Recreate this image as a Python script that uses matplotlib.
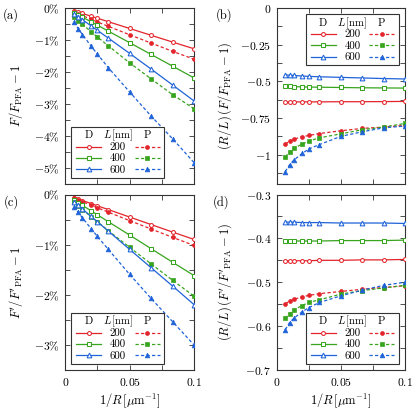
import matplotlib
matplotlib.use("Agg")
import matplotlib.pyplot as plt
from matplotlib.lines import Line2D
from matplotlib.text import Text
from matplotlib.offsetbox import DrawingArea, VPacker, HPacker, AnchoredOffsetbox
from matplotlib.ticker import MultipleLocator

plt.rcParams['font.family'] = 'serif'
plt.rcParams['font.serif'] = ['cmr10']
plt.rcParams['mathtext.fontset'] = 'cm'
plt.rcParams['axes.unicode_minus'] = True

FS = 8.4

# 1/R in um^-1
inv_R = [1/150, 1/100, 1/75, 1/50, 1/40, 1/30, 1/20, 1/15, 1/12, 1/10]
L_labels = ['200', '400', '600']

# (a) F/F_PFA - 1 in percent
a_D200 = [-0.085, -0.128, -0.171, -0.256, -0.320, -0.427, -0.640, -0.853, -1.064, -1.274]
a_D400 = [-0.142, -0.214, -0.286, -0.430, -0.539, -0.720, -1.084, -1.451, -1.817, -2.184]
a_D600 = [-0.182, -0.275, -0.368, -0.557, -0.699, -0.938, -1.419, -1.908, -2.405, -2.904]
a_P200 = [-0.124, -0.182, -0.238, -0.351, -0.435, -0.571, -0.837, -1.095, -1.354, -1.600]
a_P400 = [-0.270, -0.393, -0.510, -0.742, -0.908, -1.180, -1.716, -2.214, -2.707, -3.148]
a_P600 = [-0.446, -0.641, -0.830, -1.189, -1.442, -1.862, -2.625, -3.376, -4.085, -4.830]

# (b) (R/L)(F/F_PFA - 1)
b_D200 = [-0.640, -0.640, -0.640, -0.640, -0.640, -0.640, -0.639, -0.639, -0.638, -0.637]
b_D400 = [-0.534, -0.535, -0.536, -0.538, -0.539, -0.540, -0.542, -0.544, -0.545, -0.546]
b_D600 = [-0.456, -0.458, -0.460, -0.464, -0.466, -0.469, -0.473, -0.477, -0.481, -0.484]
b_P200 = [-0.927, -0.908, -0.894, -0.878, -0.869, -0.856, -0.837, -0.821, -0.812, -0.800]
b_P400 = [-1.014, -0.982, -0.956, -0.927, -0.908, -0.885, -0.858, -0.830, -0.812, -0.787]
b_P600 = [-1.115, -1.069, -1.037, -0.991, -0.961, -0.931, -0.875, -0.844, -0.817, -0.805]

# (c) F'/F'_PFA - 1 in percent
c_D200 = [-0.060, -0.090, -0.120, -0.180, -0.226, -0.300, -0.450, -0.599, -0.749, -0.896]
c_D400 = [-0.108, -0.162, -0.217, -0.325, -0.406, -0.541, -0.810, -1.080, -1.350, -1.616]
c_D600 = [-0.145, -0.218, -0.290, -0.437, -0.546, -0.728, -1.095, -1.460, -1.825, -2.196]
c_P200 = [-0.073, -0.109, -0.144, -0.213, -0.265, -0.351, -0.521, -0.688, -0.854, -1.016]
c_P400 = [-0.155, -0.229, -0.300, -0.442, -0.546, -0.720, -1.054, -1.384, -1.710, -2.028]
c_P600 = [-0.243, -0.355, -0.466, -0.680, -0.837, -1.092, -1.593, -2.072, -2.535, -3.000]

# (d) (R/L)(F'/F'_PFA - 1)
d_D200 = [-0.451, -0.451, -0.451, -0.451, -0.451, -0.450, -0.450, -0.449, -0.449, -0.448]
d_D400 = [-0.406, -0.406, -0.406, -0.406, -0.406, -0.406, -0.405, -0.405, -0.405, -0.404]
d_D600 = [-0.363, -0.363, -0.363, -0.364, -0.364, -0.364, -0.365, -0.365, -0.365, -0.366]
d_P200 = [-0.549, -0.543, -0.539, -0.533, -0.530, -0.526, -0.521, -0.516, -0.512, -0.508]
d_P400 = [-0.582, -0.572, -0.563, -0.553, -0.546, -0.540, -0.527, -0.519, -0.513, -0.507]
d_P600 = [-0.608, -0.592, -0.582, -0.567, -0.558, -0.546, -0.531, -0.518, -0.507, -0.500]

colors = ['#e3242b', '#38a51f', '#1f63d8']
markers = ['o', 's', '^']
msizes = [2.8, 2.6, 3.4]
LW = 0.9
DASH = (2.6, 1.8)
SPINE = '#333333'

W, H = 415, 409
fig = plt.figure(figsize=(W/100, H/100), dpi=100)

def fr(l, t, r, b):
    return [l/W, 1 - b/H, (r - l)/W, (b - t)/H]

axA = fig.add_axes(fr(65.3, 8, 194, 184))
axB = fig.add_axes(fr(276.7, 8, 405, 184))
axC = fig.add_axes(fr(65.3, 194.5, 194, 370))
axD = fig.add_axes(fr(276.7, 194.5, 405, 370))


def draw(ax, Ds, Ps):
    for i in range(3):
        ax.plot(inv_R, Ds[i], color=colors[i], lw=LW, marker=markers[i],
                ms=msizes[i], mfc='white', mec=colors[i], mew=0.75, zorder=3)
        ax.plot(inv_R, Ps[i], color=colors[i], lw=LW, ls=(0, DASH), marker=markers[i],
                ms=msizes[i], mfc=colors[i], mec=colors[i], mew=0.5, zorder=3)


draw(axA, [a_D200, a_D400, a_D600], [a_P200, a_P400, a_P600])
draw(axB, [b_D200, b_D400, b_D600], [b_P200, b_P400, b_P600])
draw(axC, [c_D200, c_D400, c_D600], [c_P200, c_P400, c_P600])
draw(axD, [d_D200, d_D400, d_D600], [d_P200, d_P400, d_P600])


def style(ax, ylim, yt, ylabels, ymin, show_x):
    ax.set_xlim(0, 0.1)
    ax.set_ylim(*ylim)
    ax.set_xticks([0, 0.05, 0.1])
    if show_x:
        ax.set_xticklabels([r'$0$', r'$0.05$', r'$0.1$'])
    else:
        ax.set_xticklabels([])
    ax.xaxis.set_minor_locator(MultipleLocator(0.025))
    ax.set_yticks(yt)
    ax.set_yticklabels(ylabels)
    ax.yaxis.set_minor_locator(MultipleLocator(ymin))
    ax.tick_params(which='both', direction='in', top=True, right=True,
                   length=3.5, width=0.6, color=SPINE, labelsize=FS, pad=4)
    for s in ax.spines.values():
        s.set_color(SPINE)
        s.set_linewidth(0.8)


style(axA, (-5.5, 0), [0, -1, -2, -3, -4, -5],
      [r'$0\%$', r'$-1\%$', r'$-2\%$', r'$-3\%$', r'$-4\%$', r'$-5\%$'], 0.5, False)
style(axB, (-1.2, 0), [0, -0.25, -0.5, -0.75, -1],
      [r'$0$', r'$-0.25$', r'$-0.5$', r'$-0.75$', r'$-1$'], 0.125, False)
style(axC, (-3.5, 0), [0, -1, -2, -3],
      [r'$0\%$', r'$-1\%$', r'$-2\%$', r'$-3\%$'], 0.5, True)
style(axD, (-0.7, -0.3), [-0.3, -0.4, -0.5, -0.6, -0.7],
      [r'$-0.3$', r'$-0.4$', r'$-0.5$', r'$-0.6$', r'$-0.7$'], 0.05, True)

LBL = FS + 0.6
axA.set_ylabel(r'$F/F_{\rm PFA}-1$', fontsize=LBL, va='center')
axA.yaxis.set_label_coords(-0.38, 0.5)
axB.set_ylabel(r'$(R/L)\,(F/F_{\rm PFA}-1)$', fontsize=LBL, va='center')
axB.yaxis.set_label_coords(-0.40, 0.5)
axC.set_ylabel(r"$F'/F'_{\rm PFA}-1$", fontsize=LBL, va='center')
axC.yaxis.set_label_coords(-0.38, 0.5)
axD.set_ylabel(r"$(R/L)\,(F'/F'_{\rm PFA}-1)$", fontsize=LBL, va='center')
axD.yaxis.set_label_coords(-0.40, 0.5)
for ax in (axC, axD):
    ax.set_xlabel(r'$1/R\,[\mu{\rm m}^{-1}]$', fontsize=LBL, labelpad=2.5)

fig.text(11/W, 1 - 15/H, '(a)', fontsize=LBL, ha='center', va='center')
fig.text(224/W, 1 - 15/H, '(b)', fontsize=LBL, ha='center', va='center')
fig.text(11/W, 1 - 202/H, '(c)', fontsize=LBL, ha='center', va='center')
fig.text(221/W, 1 - 202/H, '(d)', fontsize=LBL, ha='center', va='center')

# custom tabular legend
CW1, CW2, CW3, RH = 21, 17, 21, 8.2
LFS = 7.8


def text_cell(s, w):
    da = DrawingArea(w, RH, 0, 0)
    da.add_artist(Text(w/2, RH/2 - 0.3, s, ha='center', va='center', fontsize=LFS))
    return da


def line_cell(i, filled, w):
    da = DrawingArea(w, RH, 0, 0)
    ls = (0, DASH) if filled else '-'
    da.add_artist(Line2D([1.5, w - 1.5], [RH/2, RH/2], color=colors[i], lw=LW, ls=ls))
    da.add_artist(Line2D([w/2], [RH/2], color=colors[i], marker=markers[i],
                         ms=msizes[i], mfc=colors[i] if filled else 'white',
                         mec=colors[i], mew=0.5 if filled else 0.75, ls='none'))
    return da


def add_legend(ax, loc):
    col1 = VPacker(children=[text_cell('D', CW1)] + [line_cell(i, False, CW1) for i in range(3)],
                   pad=0, sep=0, align='center')
    col2 = VPacker(children=[text_cell(r'$L\,[{\rm nm}]$', CW2)] + [text_cell(t, CW2) for t in L_labels],
                   pad=0, sep=0, align='center')
    col3 = VPacker(children=[text_cell('P', CW3)] + [line_cell(i, True, CW3) for i in range(3)],
                   pad=0, sep=0, align='center')
    box = HPacker(children=[col1, col2, col3], pad=0, sep=2, align='center')
    ab = AnchoredOffsetbox(loc=loc, child=box, pad=0.25, borderpad=0.55,
                           frameon=True, prop=dict(size=8))
    ab.patch.set_boxstyle('square', pad=0)
    ab.patch.set_edgecolor(SPINE)
    ab.patch.set_linewidth(0.8)
    ab.patch.set_facecolor('white')
    ab.set_zorder(5)
    ax.add_artist(ab)


add_legend(axA, 'lower left')
add_legend(axB, 'upper right')
add_legend(axC, 'lower left')
add_legend(axD, 'lower right')

fig.savefig('out.png', dpi=100)
